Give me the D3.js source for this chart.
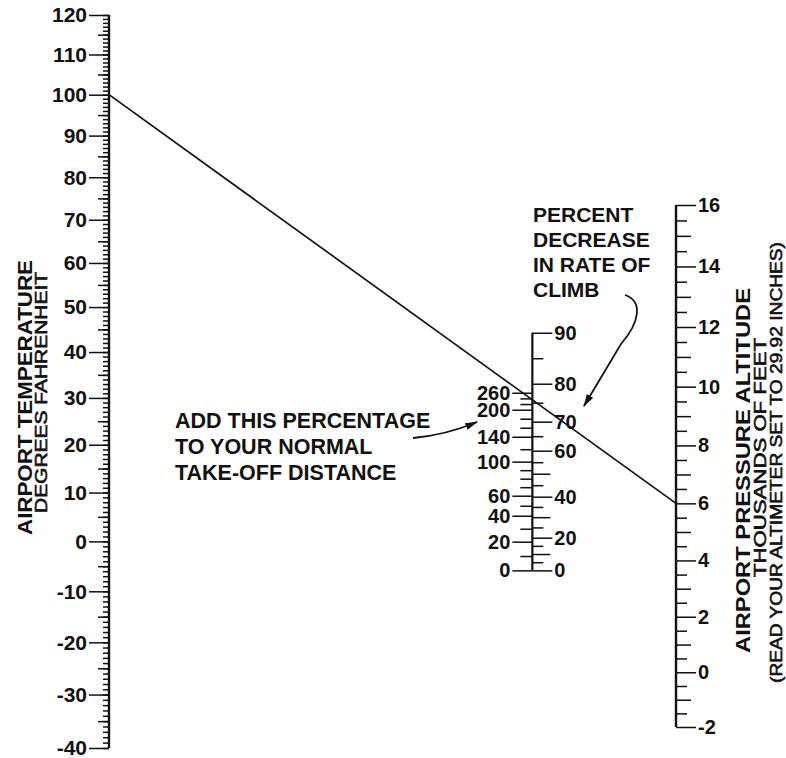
<!DOCTYPE html>
<html><head><meta charset="utf-8">
<script src="https://cdn.jsdelivr.net/npm/d3@7"></script>
<style>
body{margin:0;background:#fff}
svg text{font-family:"Liberation Sans",Arial,Helvetica,sans-serif;fill:#111}
</style>
</head><body>
<svg id="chart" width="786" height="758"></svg>
<script>
// ---------------- data ----------------
const tempLabels = [120,110,100,90,80,70,60,50,40,30,20,10,0,-10,-20,-30,-40];   // °F
const tempMid    = [115,105,95,85,75,65,55,45,35,25,15,5,-5,-15,-25,-35];
const tempMinor  = d3.range(-40,121,1);
const altLabels  = [16,14,12,10,8,6,4,2,0,-2];                                   // thousands of feet
const altOdd     = [15,13,11,9,7,5,3,1,-1];
const altHalf    = [15.5,14.5,13.5,12.5,11.5,10.5,9.5,8.5,7.5,6.5,5.5,4.5,3.5,2.5,1.5,0.5,-0.5,-1.5];
const takeoffLabels = [0,20,40,60,100,140,200,260];                              // % add to take-off distance
const takeoffSigma  = [1,0.951,0.9087,0.8774,0.8266,0.7913,0.7547,0.7326];       // density ratio at each label
const takeoffMinor  = [10,30,50,70,80,90,120,160,180,220,240];
const climbLabels = [0,20,40,60,70,80,90];                                       // % decrease in rate of climb
const climbSigma  = [1,0.9443,0.8789,0.8109,0.7707,0.7211,0.6595];
const climbTens   = [10,30,50];
const climbFives  = [5,15,25,35,45,55,65,75,85];
const example = {temp:100, alt:6};

// ---------------- scales ----------------
const svg = d3.select("#chart");
const xL = 109, xR = 676;
const R = f => f + 459.67;                                    // Rankine
const delta = k => Math.pow(1 - 6.8756e-6 * k * 1000, 5.2559); // pressure ratio
const yTemp = d3.scaleLog().domain([R(120), R(-40)]).range([15, 748]);
const yAlt  = d3.scaleLog().domain([delta(16), delta(-2)]).range([205, 727]);

const kL = (748-15) / Math.log(R(120)/R(-40));
const kR = (727-205) / Math.log(delta(-2)/delta(16));
const t = kL / (kL + kR);
const xM = xL + t * (xR - xL) - 1;
const midY = s => (1-t) * yTemp(518.67 / s) + t * yAlt(delta(0));
const ySigma = d3.scaleLog().domain([0.6, 1]).range([midY(0.6), midY(1)]);
const yTakeoff = d3.scaleLinear().domain(takeoffLabels).range(takeoffSigma.map(s => ySigma(s)));
const yClimb   = d3.scaleLinear().domain(climbLabels).range(climbSigma.map(s => ySigma(s)));

const FONT = '"Liberation Sans",Arial,Helvetica,sans-serif';
function axis(g, gen, size, fmt, fs, pad) {
  const a = g.append("g").call(gen.tickSize(size).tickSizeOuter(0).tickPadding(pad||3).tickFormat(fmt || ""));
  a.select(".domain").remove();
  a.attr("font-family", FONT).attr("font-size", fs||20).attr("font-weight","bold");
  a.selectAll("line").attr("stroke","#111").attr("stroke-width",1.5);
  a.selectAll("text").attr("fill","#111");
  return a;
}

// ---------------- left axis: temperature ----------------
const gL = svg.append("g").attr("transform", `translate(${xL},0)`);
axis(gL, d3.axisLeft(yTemp).tickValues(tempMinor.map(R)), 6);
axis(gL, d3.axisLeft(yTemp).tickValues(tempMid.map(R)), 11);
axis(gL, d3.axisLeft(yTemp).tickValues(tempLabels.map(R)), 20, (d,i)=>String(tempLabels[i]), 21, 2);
gL.append("line").attr("y1", yTemp(R(120))).attr("y2", yTemp(R(-40)))
  .attr("stroke","#111").attr("stroke-width",2.4);

// ---------------- right axis: pressure altitude ----------------
const gR = svg.append("g").attr("transform", `translate(${xR},0)`);
axis(gR, d3.axisRight(yAlt).tickValues(altHalf.map(delta)), 11);
axis(gR, d3.axisRight(yAlt).tickValues(altOdd.map(delta)), 15);
axis(gR, d3.axisRight(yAlt).tickValues(altLabels.map(delta)), 20, (d,i)=>String(altLabels[i]), 20, 2);
gR.append("line").attr("y1", yAlt(delta(16))).attr("y2", yAlt(delta(-2)))
  .attr("stroke","#111").attr("stroke-width",2.4);

// ---------------- middle axis ----------------
const gM = svg.append("g").attr("transform", `translate(${xM},0)`);
axis(gM, d3.axisLeft(yTakeoff).tickValues(takeoffMinor), 12);
axis(gM, d3.axisLeft(yTakeoff).tickValues(takeoffLabels), 20, d=>String(d), 20, 2);
axis(gM, d3.axisRight(yClimb).tickValues(climbFives), 11);
axis(gM, d3.axisRight(yClimb).tickValues(climbTens), 18);
axis(gM, d3.axisRight(yClimb).tickValues(climbLabels), 20, d=>String(d), 20, 2);
gM.append("line").attr("y1", yClimb(90)).attr("y2", yClimb(0))
  .attr("stroke","#111").attr("stroke-width",2.2);

// ---------------- example line ----------------
svg.append("path")
  .datum([[xL, yTemp(R(example.temp))],[xR, yAlt(delta(example.alt))]])
  .attr("d", d3.line())
  .attr("fill","none").attr("stroke","#111").attr("stroke-width",1.7);

// ---------------- titles ----------------
function vtext(x, y, str, fs, weight, len, sw) {
  svg.append("text").attr("transform", `translate(${x},${y}) rotate(-90)`)
    .attr("text-anchor","middle").attr("font-size", fs).attr("font-weight", weight)
    .attr("stroke","#111").attr("stroke-width", sw || 0)
    .attr("textLength", len).attr("lengthAdjust","spacingAndGlyphs").text(str);
}
vtext(32, 397.5, "AIRPORT TEMPERATURE", 21, "bold", 275);
vtext(47, 392.5, "DEGREES FAHRENHEIT", 16, "normal", 241, 0.6);
vtext(750, 470.5, "AIRPORT PRESSURE ALTITUDE", 21, "bold", 365);
vtext(766, 457.5, "THOUSANDS OF FEET", 16, "normal", 239, 0.6);
vtext(782, 462.5, "(READ YOUR ALTIMETER SET TO 29.92 INCHES)", 16, "normal", 441, 0.6);

// ---------------- annotations ----------------
const noteClimb = ["PERCENT","DECREASE","IN RATE OF","CLIMB"];
const noteTakeoff = ["ADD THIS PERCENTAGE","TO YOUR NORMAL","TAKE-OFF DISTANCE"];
svg.append("g").selectAll("text").data(noteClimb).join("text")
  .attr("x", 533).attr("y", (d,i)=>222 + i*25)
  .attr("font-size", 21).attr("font-weight","bold").text(d=>d);
svg.append("g").selectAll("text").data(noteTakeoff).join("text")
  .attr("x", 175).attr("y", (d,i)=>428 + i*26)
  .attr("font-size", 21.5).attr("font-weight","bold").text(d=>d);

const defs = svg.append("defs");
defs.append("marker").attr("id","ah").attr("viewBox","0 0 10 10")
  .attr("refX",9).attr("refY",5).attr("markerWidth",13).attr("markerHeight",8)
  .attr("markerUnits","userSpaceOnUse").attr("preserveAspectRatio","none").attr("orient","auto")
  .append("path").attr("d","M0,0.5 L10,5 L0,9.5 Z").attr("fill","#111");

svg.append("path").attr("d","M413,438 Q446,435 477,422")
  .attr("fill","none").attr("stroke","#111").attr("stroke-width",1.8).attr("marker-end","url(#ah)");
svg.append("path").attr("d","M625,295 C643,301 640,322 621,344 L584,406")
  .attr("fill","none").attr("stroke","#111").attr("stroke-width",1.8).attr("marker-end","url(#ah)");
</script>
</body></html>
